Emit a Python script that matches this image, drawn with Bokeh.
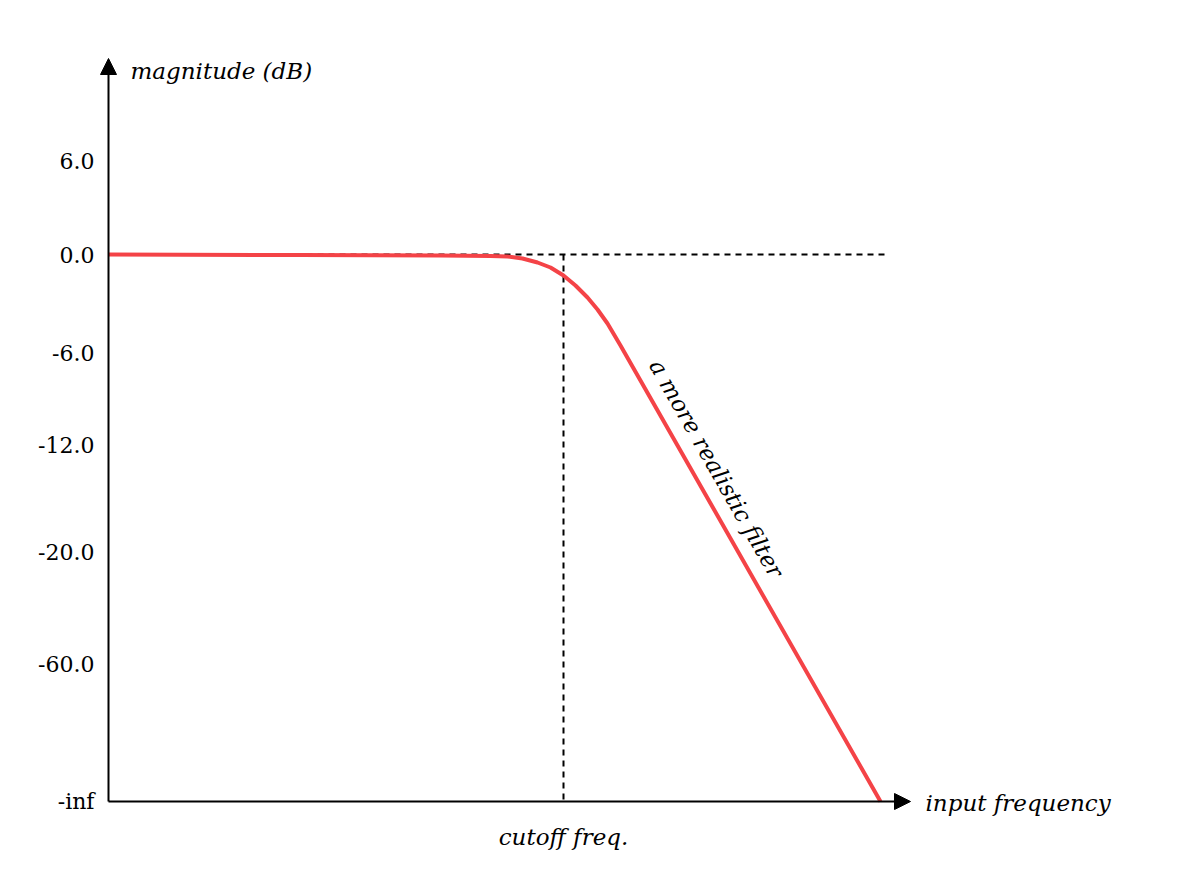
from bokeh.plotting import figure
from bokeh.models import Range1d, Arrow, NormalHead
from bokeh.core.properties import value
from bokeh.embed import file_html
from bokeh.resources import INLINE

# chart laid out in reference pixel units (y grows downward)
tick_labels = ['6.0', '0.0', '-6.0', '-12.0', '-20.0', '-60.0', '-inf']
tick_pos = [160, 254, 352, 444, 551, 663, 801]

curve_x = [108, 300, 440, 490, 507, 522, 537, 550, 563, 575, 587, 597, 607, 620, 880]
curve_y = [254, 254.5, 255, 255.5, 256, 258, 262, 267, 275, 285, 297, 309, 323, 345, 801]

origin_x, origin_y = 108, 801
cutoff_x = 563
FONT = value("DejaVu Serif")

p = figure(width=1165, height=875, output_backend="svg", toolbar_location=None,
           x_range=Range1d(0, 1165), y_range=Range1d(875, 0), min_border=0)
p.axis.visible = False
p.grid.visible = False
p.outline_line_color = None

# axes with arrows
p.add_layout(Arrow(end=NormalHead(size=16, fill_color="black", line_color="black"),
                   x_start=origin_x, y_start=origin_y, x_end=origin_x, y_end=58, line_width=2))
p.add_layout(Arrow(end=NormalHead(size=16, fill_color="black", line_color="black"),
                   x_start=origin_x, y_start=origin_y, x_end=910, y_end=origin_y, line_width=2))

# dashed reference lines
p.line([origin_x, 885], [tick_pos[1], tick_pos[1]], line_color="black", line_width=2, line_dash="6 5")
p.line([cutoff_x, cutoff_x], [tick_pos[1], origin_y], line_color="black", line_width=2, line_dash="6 5")

# filter response
p.line(curve_x, curve_y, line_color="#f44347", line_width=4)

# tick labels
p.text(x=[94] * len(tick_labels), y=tick_pos, text=tick_labels, text_align="right",
       text_baseline="middle", text_font=FONT, text_font_size="22px", text_color="black")

p.text(x=[130], y=[70], text=["magnitude (dB)"], text_baseline="middle",
       text_font=FONT, text_font_style="italic", text_font_size="23px")
p.text(x=[925], y=[802], text=["input frequency"], text_baseline="middle",
       text_font=FONT, text_font_style="italic", text_font_size="23px")
p.text(x=[cutoff_x], y=[836], text=["cutoff freq."], text_baseline="middle", text_align="center",
       text_font=FONT, text_font_style="italic", text_font_size="23px")
p.text(x=[716], y=[468], text=["a more realistic filter"], text_baseline="middle", text_align="center",
       angle=-60.3, angle_units="deg",
       text_font=FONT, text_font_style="italic", text_font_size="23px")

open("out.html", "w").write(file_html(p, INLINE))
